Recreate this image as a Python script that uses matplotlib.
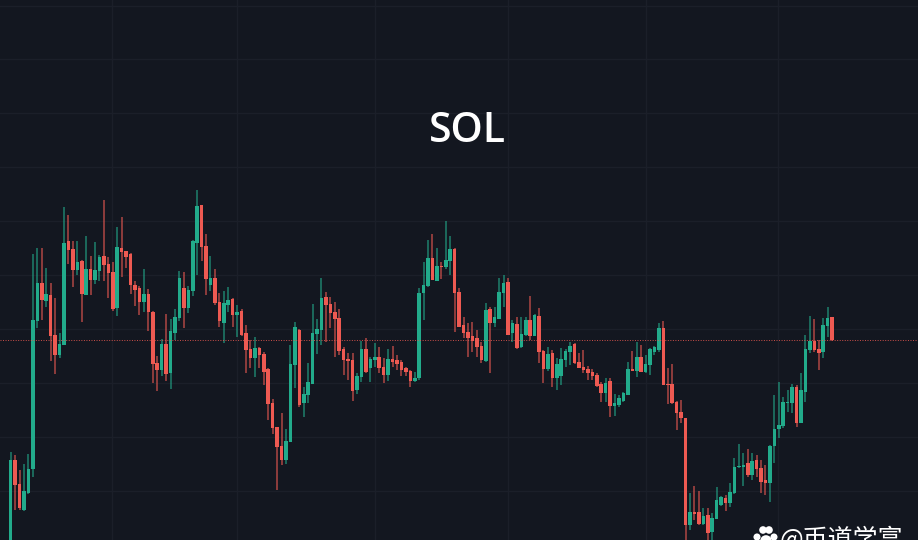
import matplotlib
matplotlib.use("Agg")
import numpy as np
import matplotlib.pyplot as plt

plt.rcParams['font.family'] = ['Noto Sans CJK SC', 'DejaVu Sans']

# Candles, prices
# -----------------------------------------------------------------------------
opens = [-5, 80, 56, 30, 47, 71, 219, 257, 239, 245, 205, 185, 195, 299, 291, 270, 279, 245, 271, 260,
         269, 284, 276, 268, 232, 292, 289, 286, 255, 252, 238, 246, 228, 177, 170, 196, 167, 207, 222, 252,
         232, 249, 297, 335, 294, 255, 262, 238, 217, 235, 241, 225, 229, 207, 191, 182, 192, 186, 171, 137,
         113, 94, 80, 98, 175, 210, 137, 145, 156, 206, 210, 243, 236, 228, 222, 191, 181, 180, 150, 163,
         191, 172, 180, 183, 173, 165, 181, 180, 178, 172, 169, 159, 162, 247, 254, 282, 259, 274, 273, 279,
         291, 248, 215, 208, 204, 202, 194, 179, 231, 217, 221, 247, 258, 207, 216, 193, 205, 220, 204, 224,
         189, 171, 187, 162, 164, 180, 188, 196, 178, 173, 171, 168, 165, 156, 147, 159, 134, 135, 139, 145,
         171, 169, 183, 168, 175, 188, 190, 212, 156, 156, 138, 128, 122, 15, 28, 28, 16, 25, 8, 21,
         35, 42, 37, 47, 73, 73, 77, 65, 80, 72, 60, 57, 94, 111, 114, 137, 137, 153, 117, 148,
         190, 199, 191, 188, 214, 223]
highs = [88, 85, 70, 76, 86, 286, 292, 292, 272, 257, 242, 207, 333, 325, 299, 299, 280, 304, 284, 298,
         285, 340, 283, 278, 313, 323, 289, 287, 259, 254, 271, 251, 229, 184, 201, 226, 221, 231, 269, 268,
         254, 300, 350, 335, 306, 284, 271, 247, 249, 253, 242, 235, 231, 215, 200, 203, 193, 188, 172, 141,
         113, 127, 111, 195, 218, 211, 153, 177, 236, 221, 262, 248, 243, 238, 231, 193, 187, 187, 167, 199,
         202, 183, 197, 193, 182, 191, 194, 185, 180, 173, 170, 168, 252, 278, 300, 306, 292, 278, 319, 304,
         292, 252, 223, 217, 218, 210, 198, 237, 233, 233, 262, 265, 262, 220, 223, 223, 223, 244, 226, 232,
         190, 193, 190, 182, 192, 191, 198, 197, 187, 190, 174, 171, 167, 158, 162, 162, 146, 145, 148, 178,
         189, 198, 195, 185, 192, 194, 217, 219, 172, 176, 139, 140, 122, 47, 54, 49, 32, 32, 27, 53,
         44, 45, 57, 82, 96, 87, 91, 87, 85, 80, 75, 95, 145, 158, 143, 150, 156, 155, 167, 205,
         224, 221, 200, 222, 233, 223]
lows = [-20, 30, 30, 29, 46, 63, 212, 220, 233, 179, 166, 182, 195, 276, 253, 265, 218, 245, 245, 256,
        259, 259, 242, 229, 224, 263, 272, 246, 234, 225, 228, 209, 157, 149, 164, 159, 151, 200, 219, 212,
        227, 244, 265, 279, 245, 249, 235, 213, 197, 228, 213, 203, 204, 167, 172, 163, 172, 155, 120, 106,
        50, 75, 76, 98, 152, 133, 123, 137, 156, 186, 195, 198, 212, 183, 185, 165, 160, 139, 146, 158,
        167, 158, 173, 167, 157, 159, 173, 170, 164, 164, 153, 158, 160, 220, 253, 260, 259, 261, 271, 265,
        208, 213, 202, 183, 188, 183, 177, 178, 167, 213, 221, 233, 205, 198, 191, 192, 204, 200, 204, 177,
        157, 169, 153, 150, 155, 173, 175, 176, 172, 167, 160, 160, 153, 138, 138, 123, 124, 133, 138, 145,
        169, 163, 168, 167, 165, 185, 188, 155, 136, 136, 110, 117, -5, 10, 20, 15, 15, -5, -5, 21,
        34, 29, 33, 46, 72, 54, 63, 60, 63, 47, 45, 38, 77, 102, 112, 128, 127, 113, 117, 138,
        187, 188, 170, 182, 203, 199]
closes = [80, 55, 32, 49, 71, 220, 257, 240, 246, 204, 185, 196, 297, 290, 270, 278, 246, 271, 260, 270,
          283, 275, 267, 231, 293, 288, 283, 255, 250, 238, 246, 228, 176, 170, 196, 166, 209, 223, 262, 232,
          250, 299, 334, 293, 261, 262, 237, 219, 237, 240, 225, 228, 205, 190, 182, 192, 185, 168, 136, 112,
          93, 80, 99, 176, 213, 135, 146, 158, 207, 211, 242, 235, 227, 221, 189, 180, 179, 149, 164, 191,
          168, 181, 183, 172, 165, 181, 178, 176, 170, 168, 159, 162, 247, 255, 282, 260, 274, 273, 280, 291,
          247, 213, 207, 202, 199, 193, 180, 230, 217, 223, 248, 257, 205, 217, 192, 206, 220, 204, 225, 188,
          171, 186, 162, 176, 181, 189, 194, 177, 172, 170, 167, 164, 154, 147, 157, 134, 137, 142, 147, 171,
          169, 183, 168, 176, 191, 193, 212, 155, 155, 137, 127, 122, 15, 28, 26, 16, 24, 7, 22, 40,
          43, 37, 48, 73, 74, 75, 65, 79, 71, 58, 57, 94, 111, 115, 138, 138, 153, 117, 150, 191,
          199, 190, 187, 215, 222, 200]

last_price = 200
grid_prices = [534.5, 481, 427, 373, 319, 265, 211, 157, 103, 49]
grid_bars = [22.9, 50.9, 82.1, 112, 143.1, 172.8]

title = "SOL"
watermark = "@币道学富"

# Colors
# -----------------------------------------------------------------------------
bg_color = "#131720"
grid_color = "#1b1f29"
up_color = "#22ab8b"
down_color = "#ee5a52"

# Figure
# -----------------------------------------------------------------------------
fig = plt.figure(figsize=(9.18, 5.40), dpi=100, facecolor=bg_color)
ax = fig.add_axes([0, 0, 1, 1], facecolor=bg_color)
ax.set_xlim(-2.41, 204.35)
ax.set_ylim(0, 540)
ax.axis("off")

for p in grid_prices:
    ax.axhline(p, color=grid_color, linewidth=1.0, zorder=1)
for b in grid_bars:
    ax.axvline(b, color=grid_color, linewidth=1.0, zorder=1)

o = np.array(opens)
h = np.array(highs)
l = np.array(lows)
c = np.array(closes)
bars = np.arange(len(o))
colors = np.where(c >= o, up_color, down_color)

ax.vlines(bars, l, h, colors=colors, linewidth=1.2, alpha=0.65, zorder=2)
ax.bar(bars, np.abs(c - o), bottom=np.minimum(o, c), width=0.8, color=colors,
       linewidth=0, zorder=3)

ax.axhline(last_price, color=down_color, linewidth=0.7, linestyle=(0, (1, 1.6)), alpha=0.85, zorder=4)

fig.text(467 / 918, 1 - 131 / 540, title, color="white", fontsize=29.5, family="Open Sans",
         fontweight="semibold", ha="center", va="center", zorder=5)

# Watermark, cut by the bottom edge
fig.text(780 / 918, 1 - 527 / 540, watermark, color="white", fontsize=18, ha="left", va="top", zorder=5)
paw_x = np.array([757, 763, 769, 774, 766]) / 918
paw_y = 1 - np.array([537, 530, 530, 537, 541]) / 540
paw_s = [26, 30, 30, 26, 70]
ax.scatter(paw_x, paw_y, s=paw_s, color="white", linewidth=0, transform=fig.transFigure, zorder=5, clip_on=False)

fig.savefig("out.png", dpi=100, facecolor=bg_color)
